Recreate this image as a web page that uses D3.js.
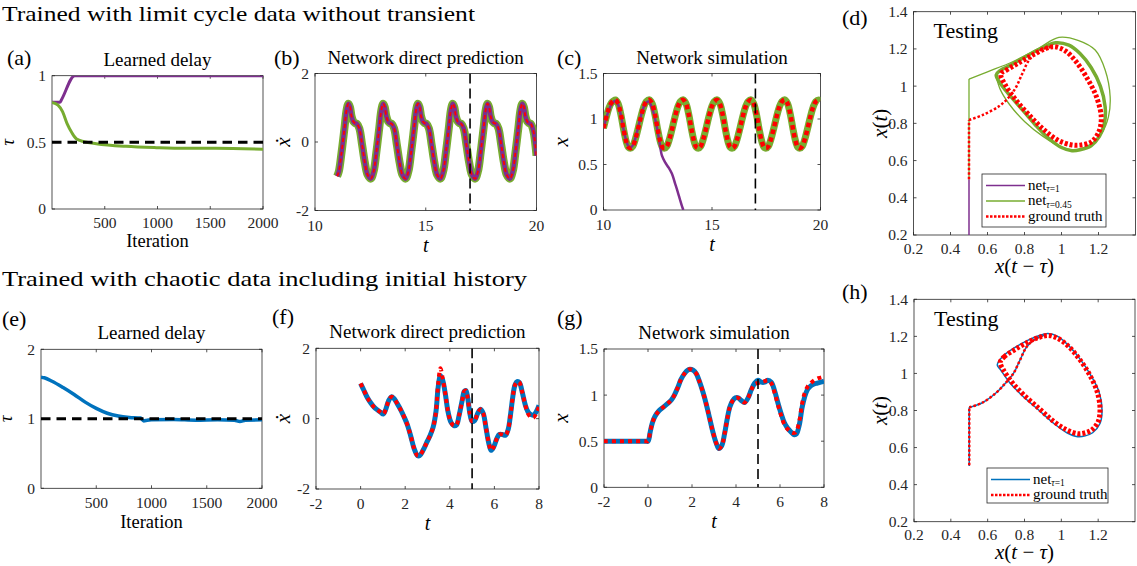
<!DOCTYPE html>
<html>
<head>
<meta charset="utf-8">
<script src="https://cdn.jsdelivr.net/npm/d3@7"></script>
<style>
body { margin: 0; background: #fff; }
svg { display: block; font-family: "Liberation Serif", "DejaVu Serif", serif; }
</style>
</head>
<body>
<svg width="1137" height="566"></svg>
<script>
// ---- (a) learned delay, limit cycle data
var aPurpleIter = [0, 75, 90, 215, 500, 1000, 1500, 2000];
var aPurpleTau = [0.8, 0.8, 0.82, 1.0, 1.0, 1.0, 1.0, 1.0];
var aGreenIter = [0, 57, 100, 143, 190, 233, 305, 420, 700, 990, 1260, 1550, 2000];
var aGreenTau = [0.8, 0.78, 0.73, 0.64, 0.57, 0.525, 0.505, 0.49, 0.47, 0.46, 0.455, 0.455, 0.448];
var aTrueDelay = 0.5;

// ---- (b) direct prediction of xdot (both nets and truth overlap)
var bT = [11.0, 11.08, 11.2, 11.33, 11.43, 11.51, 11.58, 11.65, 11.73, 11.81, 11.89, 12.0, 12.13, 12.25, 12.37, 12.52,
  12.65, 12.77, 12.9, 13.0, 13.08, 13.15, 13.22, 13.3, 13.38, 13.46, 13.57, 13.7, 13.82, 13.94, 14.09,
  14.22, 14.34, 14.47, 14.57, 14.65, 14.72, 14.79, 14.87, 14.95, 15.03, 15.14, 15.27, 15.39, 15.51, 15.66,
  15.79, 15.91, 16.04, 16.14, 16.22, 16.29, 16.36, 16.44, 16.52, 16.6, 16.71, 16.84, 16.96, 17.08, 17.23,
  17.36, 17.48, 17.61, 17.71, 17.79, 17.86, 17.93, 18.01, 18.09, 18.17, 18.28, 18.41, 18.53, 18.65, 18.8,
  18.93, 19.05, 19.18, 19.28, 19.36, 19.43, 19.5, 19.58, 19.66, 19.74, 19.85, 20.0];
var bXdot = [-1.0, -0.85, -0.3, 0.4, 0.95, 1.12, 1.02, 0.75, 0.6, 0.55, 0.53, 0.4, -0.1, -0.6, -0.95, -1.07,
  -0.85, -0.3, 0.4, 0.95, 1.12, 1.02, 0.75, 0.6, 0.55, 0.53, 0.4, -0.1, -0.6, -0.95, -1.07,
  -0.85, -0.3, 0.4, 0.95, 1.12, 1.02, 0.75, 0.6, 0.55, 0.53, 0.4, -0.1, -0.6, -0.95, -1.07,
  -0.85, -0.3, 0.4, 0.95, 1.12, 1.02, 0.75, 0.6, 0.55, 0.53, 0.4, -0.1, -0.6, -0.95, -1.07,
  -0.85, -0.3, 0.4, 0.95, 1.12, 1.02, 0.75, 0.6, 0.55, 0.53, 0.4, -0.1, -0.6, -0.95, -1.07,
  -0.85, -0.3, 0.4, 0.95, 1.12, 1.02, 0.75, 0.6, 0.55, 0.53, 0.35, -0.4];
var bSplit = 17;

// ---- (c) network simulation, limit cycle
var cT = [10.0, 10.13, 10.25, 10.37, 10.47,
  10.55, 10.67, 10.8, 10.93, 11.05, 11.15, 11.25, 11.35, 11.47, 11.6, 11.73, 11.85, 11.97,
  12.12, 12.24, 12.37, 12.5, 12.62, 12.72, 12.82, 12.92, 13.04, 13.17, 13.3, 13.42, 13.54,
  13.68, 13.8, 13.93, 14.06, 14.18, 14.28, 14.38, 14.48, 14.6, 14.73, 14.86, 14.98, 15.1,
  15.24, 15.36, 15.49, 15.62, 15.74, 15.84, 15.94, 16.04, 16.16, 16.29, 16.42, 16.54, 16.66,
  16.8, 16.92, 17.05, 17.18, 17.3, 17.4, 17.5, 17.6, 17.72, 17.85, 17.98, 18.1, 18.22,
  18.36, 18.48, 18.61, 18.74, 18.86, 18.96, 19.06, 19.16, 19.28, 19.41, 19.54, 19.66, 19.78,
  19.92, 20.0];
var cX = [0.9, 1.02, 1.12, 1.18, 1.2,
  1.21, 1.17, 1.05, 0.88, 0.75, 0.69, 0.68, 0.7, 0.78, 0.9, 1.03, 1.13, 1.19,
  1.21, 1.17, 1.05, 0.88, 0.75, 0.69, 0.68, 0.7, 0.78, 0.9, 1.03, 1.13, 1.19,
  1.21, 1.17, 1.05, 0.88, 0.75, 0.69, 0.68, 0.7, 0.78, 0.9, 1.03, 1.13, 1.19,
  1.21, 1.17, 1.05, 0.88, 0.75, 0.69, 0.68, 0.7, 0.78, 0.9, 1.03, 1.13, 1.19,
  1.21, 1.17, 1.05, 0.88, 0.75, 0.69, 0.68, 0.7, 0.78, 0.9, 1.03, 1.13, 1.19,
  1.21, 1.17, 1.05, 0.88, 0.75, 0.69, 0.68, 0.7, 0.78, 0.9, 1.03, 1.13, 1.19,
  1.21, 1.2];
var cPurpleT = [10.0, 10.13, 10.25, 10.37, 10.47, 10.55, 10.67, 10.8, 10.93, 11.05, 11.15, 11.25, 11.35, 11.47,
  11.6, 11.73, 11.85, 11.97, 12.1, 12.22, 12.35, 12.46, 12.58, 12.69, 12.85, 12.99, 13.15, 13.3, 13.42, 13.53, 13.62, 13.68];
var cPurpleX = [0.9, 1.01, 1.1, 1.16, 1.19, 1.2, 1.16, 1.04, 0.88, 0.76, 0.7, 0.69, 0.71, 0.79,
  0.91, 1.04, 1.13, 1.18, 1.19, 1.13, 1.03, 0.91, 0.75, 0.6, 0.52, 0.47, 0.4, 0.29, 0.2, 0.11, 0.04, 0.0];
var cSplit = 17;

// ---- (d) phase portrait x(t-tau) vs x(t), limit cycle
var dPurpleX = [0.5, 0.5];
var dPurpleY = [0.5, 0.0];
var dGreenPathX = [0.5, 0.5, 0.6, 0.736, 0.879, 0.986, 1.093, 1.182, 1.236, 1.263, 1.254, 1.218, 1.165, 1.075, 1.0, 0.9, 0.8, 0.72, 0.67, 0.647];
var dGreenPathY = [0.5, 1.038, 1.077, 1.131, 1.205, 1.262, 1.245, 1.194, 1.087, 0.943, 0.836, 0.747, 0.693, 0.657, 0.672, 0.73, 0.81, 0.9, 0.98, 1.05];
var dGreenLoopX = [0.647, 0.67, 0.72, 0.8, 0.88, 0.968, 1.04, 1.1, 1.16, 1.21, 1.236, 1.232, 1.205, 1.16, 1.1, 1.057, 1.0, 0.93, 0.86, 0.789, 0.73, 0.68];
var dGreenLoopY = [1.06, 1.085, 1.11, 1.155, 1.198, 1.233, 1.22, 1.175, 1.1, 1.0, 0.889, 0.8, 0.73, 0.68, 0.658, 0.653, 0.67, 0.72, 0.79, 0.872, 0.94, 1.0];
var dTruthPathX = [0.5, 0.5, 0.575, 0.664, 0.718, 0.754, 0.789, 0.825, 0.879, 0.95];
var dTruthPathY = [0.5, 0.818, 0.845, 0.893, 0.943, 0.994, 1.069, 1.14, 1.19, 1.212];
var dTruthLoopX = [0.672, 0.7, 0.76, 0.84, 0.91, 0.96, 1.02, 1.08, 1.14, 1.19, 1.215, 1.2, 1.16, 1.1, 1.05, 0.98, 0.9, 0.82, 0.75, 0.7];
var dTruthLoopY = [1.065, 1.085, 1.12, 1.165, 1.2, 1.212, 1.19, 1.13, 1.04, 0.94, 0.83, 0.75, 0.7, 0.683, 0.685, 0.71, 0.77, 0.85, 0.93, 1.0];

// ---- (e) learned delay, chaotic data
var eIter = [0, 30, 100, 200, 300, 400, 500, 600, 700, 800, 900, 930, 960, 1000, 1200, 1400, 1600, 1750, 1800, 1850, 2000];
var eTau = [1.6, 1.59, 1.54, 1.45, 1.35, 1.24, 1.15, 1.08, 1.04, 1.02, 1.01, 0.97, 0.98, 0.985, 0.99, 0.98, 0.985, 0.98, 0.96, 0.98, 0.985];
var eTrueDelay = 1;

// ---- (f) direct prediction, chaotic
var fT = [0.0, 0.15, 0.3, 0.45, 0.6, 0.75, 0.9, 1.02, 1.12, 1.25, 1.38, 1.5, 1.65, 1.8, 1.95, 2.1, 2.25, 2.4, 2.55, 2.65,
  2.8, 2.95, 3.1, 3.25, 3.38, 3.48, 3.58, 3.68, 3.8, 3.92, 4.05, 4.18, 4.3, 4.42, 4.55, 4.65, 4.72, 4.8, 4.9, 5.0,
  5.12, 5.25, 5.38, 5.5, 5.62, 5.75, 5.85, 5.97, 6.1, 6.22, 6.35, 6.5, 6.62, 6.72, 6.82, 6.92, 7.02, 7.12, 7.25,
  7.38, 7.5, 7.62, 7.75, 7.88, 8.0];
var fNet = [1.0, 0.8, 0.6, 0.45, 0.33, 0.25, 0.18, 0.13, 0.25, 0.5, 0.62, 0.57, 0.42, 0.25, 0.05, -0.18, -0.5, -0.85, -1.05, -1.05,
  -0.9, -0.7, -0.5, -0.25, 0.2, 0.9, 1.22, 1.1, 0.7, 0.2, -0.1, -0.2, -0.18, 0.1, 0.5, 0.78, 0.8, 0.6, 0.15, -0.08,
  -0.05, 0.15, 0.27, 0.15, -0.25, -0.7, -0.9, -0.8, -0.58, -0.45, -0.45, -0.47, -0.3, 0.1, 0.6, 0.95, 1.05, 1.03, 0.75,
  0.4, 0.2, 0.12, 0.1, 0.2, 0.38];
var fTruth = [1.0, 0.8, 0.6, 0.45, 0.33, 0.25, 0.18, 0.13, 0.25, 0.5, 0.62, 0.57, 0.42, 0.25, 0.05, -0.18, -0.5, -0.85, -1.05, -1.05,
  -0.9, -0.7, -0.5, -0.25, 0.2, 1.0, 1.43, 1.15, 0.7, 0.2, -0.1, -0.2, -0.18, 0.1, 0.5, 0.78, 0.8, 0.6, 0.15, -0.08,
  -0.05, 0.15, 0.27, 0.15, -0.25, -0.7, -0.9, -0.8, -0.58, -0.45, -0.45, -0.47, -0.3, 0.1, 0.6, 0.95, 1.05, 1.03, 0.75,
  0.4, 0.15, 0.05, 0.03, 0.15, 0.35];
var fSplit = 5;

// ---- (g) network simulation, chaotic
var gT = [-2, -0.1, 0, 0.1, 0.2, 0.32, 0.5, 0.7, 0.9, 1.07, 1.2, 1.35, 1.5, 1.65, 1.8, 1.9, 2.05, 2.2, 2.35, 2.5, 2.65, 2.8, 2.95,
  3.1, 3.22, 3.35, 3.48, 3.6, 3.72, 3.85, 3.97, 4.1, 4.25, 4.39, 4.55, 4.7, 4.85, 5.0, 5.15, 5.3, 5.45, 5.6, 5.75, 5.9,
  6.05, 6.2, 6.35, 6.5, 6.65, 6.75, 6.88, 7.0, 7.12, 7.25, 7.4, 7.55, 7.7, 7.85, 8.0];
var gNet = [0.5, 0.5, 0.5, 0.6, 0.7, 0.77, 0.83, 0.87, 0.91, 0.95, 1.0, 1.08, 1.17, 1.23, 1.27, 1.28, 1.27, 1.23, 1.14, 1.03, 0.9, 0.75, 0.6,
  0.48, 0.42, 0.45, 0.58, 0.74, 0.87, 0.94, 0.97, 0.97, 0.94, 0.92, 0.97, 1.06, 1.13, 1.16, 1.14, 1.14, 1.16, 1.14, 1.05, 0.92,
  0.8, 0.7, 0.64, 0.6, 0.57, 0.58, 0.68, 0.86, 0.98, 1.06, 1.1, 1.12, 1.13, 1.14, 1.15];
var gTruth = [0.5, 0.5, 0.5, 0.6, 0.7, 0.77, 0.83, 0.87, 0.91, 0.95, 1.0, 1.08, 1.17, 1.23, 1.27, 1.28, 1.27, 1.23, 1.14, 1.03, 0.9, 0.75, 0.6,
  0.48, 0.42, 0.45, 0.58, 0.74, 0.87, 0.94, 0.97, 0.97, 0.94, 0.92, 0.97, 1.06, 1.12, 1.13, 1.14, 1.15, 1.16, 1.13, 1.03, 0.9,
  0.78, 0.68, 0.63, 0.6, 0.59, 0.61, 0.72, 0.9, 1.02, 1.09, 1.13, 1.16, 1.18, 1.19, 1.2];
var gSplit = 5;

// ---- (h) phase portrait, chaotic
var hNetPathX = [0.5, 0.5, 0.571, 0.643, 0.696, 0.74, 0.776, 0.812, 0.857, 0.91];
var hNetPathY = [0.5, 0.817, 0.842, 0.893, 0.947, 1.0, 1.073, 1.144, 1.184, 1.207];
var hNetLoopX = [0.652, 0.68, 0.74, 0.82, 0.88, 0.927, 0.98, 1.04, 1.1, 1.16, 1.205, 1.221, 1.21, 1.17, 1.13, 1.088, 1.03, 0.96, 0.88, 0.784, 0.72, 0.67];
var hNetLoopY = [1.045, 1.09, 1.135, 1.18, 1.205, 1.216, 1.2, 1.15, 1.08, 0.99, 0.9, 0.803, 0.73, 0.68, 0.663, 0.659, 0.68, 0.73, 0.8, 0.884, 0.95, 1.02];
var hTruthPathX = [0.5, 0.5, 0.571, 0.643, 0.696, 0.74, 0.776, 0.812, 0.857, 0.91];
var hTruthPathY = [0.505, 0.817, 0.842, 0.893, 0.947, 1.0, 1.073, 1.144, 1.184, 1.207];
var hTruthLoopX = [0.668, 0.69, 0.75, 0.82, 0.88, 0.93, 0.98, 1.04, 1.1, 1.155, 1.195, 1.21, 1.2, 1.165, 1.13, 1.09, 1.03, 0.96, 0.88, 0.79, 0.73, 0.685];
var hTruthLoopY = [1.06, 1.09, 1.13, 1.17, 1.195, 1.205, 1.19, 1.145, 1.075, 0.99, 0.9, 0.81, 0.74, 0.695, 0.68, 0.675, 0.695, 0.74, 0.81, 0.89, 0.955, 1.02];

// ---- ticks
var iterTicks = [500, 1000, 1500, 2000];
var aTauTicks = [0, 0.5, 1];
var eTauTicks = [0, 1, 2];
var xdotTicks = [-2, 0, 2];
var xTicks15 = [0, 0.5, 1, 1.5];
var tTicksTop = [10, 15, 20];
var tTicksBottom = [-2, 0, 2, 4, 6, 8];
var phaseXTicks = [0.2, 0.4, 0.6, 0.8, 1, 1.2];
var phaseYTicks = [0.2, 0.4, 0.6, 0.8, 1, 1.2, 1.4];

var PURPLE = "#7E2F8E", GREEN = "#77AC30", BLUE = "#0072BD", RED = "#FF0000", INK = "#262626";

var svg = d3.select("svg");
var clipN = 0;
var CR = d3.curveCatmullRom.alpha(0.5);
var CRC = d3.curveCatmullRomClosed.alpha(0.5);

function panel(o) {
  var x = d3.scaleLinear().domain(o.xd).range([o.left, o.left + o.w]);
  var y = d3.scaleLinear().domain(o.yd).range([o.top + o.h, o.top]);
  var id = "clip" + (clipN++);
  var tdy = o.tickDy || 20;
  svg.append("clipPath").attr("id", id).append("rect")
    .attr("x", o.left).attr("y", o.top).attr("width", o.w).attr("height", o.h);
  var g = svg.append("g");
  g.append("rect")
    .attr("x", o.left).attr("y", o.top).attr("width", o.w).attr("height", o.h)
    .attr("fill", "#fff").attr("stroke", INK).attr("stroke-width", 0.8);

  // inward ticks on all four sides, like matlab
  o.xt.forEach(function(v) {
    g.append("line").attr("x1", x(v)).attr("x2", x(v)).attr("y1", o.top + o.h).attr("y2", o.top + o.h - 3).attr("stroke", INK).attr("stroke-width", 0.8);
    g.append("line").attr("x1", x(v)).attr("x2", x(v)).attr("y1", o.top).attr("y2", o.top + 3).attr("stroke", INK).attr("stroke-width", 0.8);
    g.append("text").attr("x", x(v)).attr("y", o.top + o.h + tdy)
      .attr("text-anchor", "middle").attr("font-size", 15.5).attr("fill", INK)
      .text(String(v));
  });
  o.yt.forEach(function(v) {
    g.append("line").attr("x1", o.left).attr("x2", o.left + 3).attr("y1", y(v)).attr("y2", y(v)).attr("stroke", INK).attr("stroke-width", 0.8);
    g.append("line").attr("x1", o.left + o.w).attr("x2", o.left + o.w - 3).attr("y1", y(v)).attr("y2", y(v)).attr("stroke", INK).attr("stroke-width", 0.8);
    g.append("text").attr("x", o.left - 6).attr("y", y(v)).attr("dy", "0.35em")
      .attr("text-anchor", "end").attr("font-size", 15.5).attr("fill", INK)
      .text(String(v));
  });

  var plot = svg.append("g").attr("clip-path", "url(#" + id + ")");

  if (o.title) {
    svg.append("text").attr("x", o.left + o.w / 2).attr("y", o.top - 10)
      .attr("text-anchor", "middle").attr("font-size", 19).text(o.title);
  }
  svg.append("text").attr("x", o.labX).attr("y", o.labY).attr("font-size", 22).text(o.label);

  return {x: x, y: y, g: g, plot: plot, o: o};
}

function trace(p, xs, ys, color, width, dash, curve) {
  p.plot.append("path")
    .datum(d3.zip(xs, ys))
    .attr("fill", "none")
    .attr("stroke", color)
    .attr("stroke-width", width)
    .attr("stroke-dasharray", dash || null)
    .attr("stroke-linejoin", "round")
    .attr("d", d3.line()
      .x(function(d) { return p.x(d[0]); })
      .y(function(d) { return p.y(d[1]); })
      .curve(curve || CR));
}

// history segment is a straight vertical, the rest is smooth
function transient(p, xs, ys, color, width, dash) {
  trace(p, xs.slice(0, 2), ys.slice(0, 2), color, width, dash, d3.curveLinear);
  trace(p, xs.slice(1), ys.slice(1), color, width, dash, CR);
}

function vline(p, v) {
  p.plot.append("line").attr("x1", p.x(v)).attr("x2", p.x(v))
    .attr("y1", p.o.top).attr("y2", p.o.top + p.o.h)
    .attr("stroke", "#000").attr("stroke-width", 1.6).attr("stroke-dasharray", "10,5");
}

function hline(p, v) {
  p.plot.append("line").attr("x1", p.o.left).attr("x2", p.o.left + p.o.w)
    .attr("y1", p.y(v)).attr("y2", p.y(v))
    .attr("stroke", "#000").attr("stroke-width", 3).attr("stroke-dasharray", "9.5,6");
}

// axis labels -- parts: [text, italic]
function xlabel(p, parts, dy, size) {
  var t = svg.append("text").attr("x", p.o.left + p.o.w / 2).attr("y", p.o.top + p.o.h + dy)
    .attr("text-anchor", "middle").attr("font-size", size);
  parts.forEach(function(s) { t.append("tspan").attr("font-style", s[1] ? "italic" : "normal").text(s[0]); });
}
function ylabel(p, parts, dx, size) {
  var t = svg.append("text")
    .attr("transform", "translate(" + (p.o.left + dx) + "," + (p.o.top + p.o.h / 2) + ") rotate(-90)")
    .attr("text-anchor", "middle").attr("font-size", size);
  parts.forEach(function(s) { t.append("tspan").attr("font-style", s[1] ? "italic" : "normal").text(s[0]); });
}

// ---------- headings
svg.append("text").attr("x", 2).attr("y", 21).attr("font-size", 22)
  .attr("textLength", 473).attr("lengthAdjust", "spacingAndGlyphs")
  .text("Trained with limit cycle data without transient");
svg.append("text").attr("x", 2).attr("y", 286).attr("font-size", 22)
  .attr("textLength", 525).attr("lengthAdjust", "spacingAndGlyphs")
  .text("Trained with chaotic data including initial history");

// ---------- (a)
var pa = panel({left: 52, top: 75.7, w: 211, h: 133.3, xd: [0, 2000], yd: [0, 1], xt: iterTicks, yt: aTauTicks,
  title: "Learned delay", label: "(a)", labX: 7, labY: 65, tickDy: 19});
trace(pa, aPurpleIter, aPurpleTau, PURPLE, 3, null, d3.curveMonotoneX);
trace(pa, aGreenIter, aGreenTau, GREEN, 3, null, d3.curveMonotoneX);
hline(pa, aTrueDelay);
xlabel(pa, [["Iteration", false]], 38, 18.5);
ylabel(pa, [["τ", true]], -38, 19);

// ---------- (b)
var pb = panel({left: 315, top: 73.5, w: 221.5, h: 137, xd: [10, 20], yd: [-2, 2], xt: tTicksTop, yt: xdotTicks,
  title: "Network direct prediction", label: "(b)", labX: 274, labY: 65});
trace(pb, bT, bXdot, GREEN, 8);
trace(pb, bT, bXdot, PURPLE, 4.5);
trace(pb, bT, bXdot, RED, 1.8, "4,3");
vline(pb, bSplit);
xlabel(pb, [["t", true]], 41, 20);
ylabel(pb, [["ẋ", true]], -25, 21);

// ---------- (c)
var pc = panel({left: 603.5, top: 73.5, w: 217, h: 136.5, xd: [10, 20], yd: [0, 1.5], xt: tTicksTop, yt: xTicks15,
  title: "Network simulation", label: "(c)", labX: 557, labY: 65});
trace(pc, cT, cX, GREEN, 7);
trace(pc, cPurpleT, cPurpleX, PURPLE, 2.5);
trace(pc, cT, cX, RED, 4.5, "4.5,3.5");
vline(pc, cSplit);
xlabel(pc, [["t", true]], 41, 20);
ylabel(pc, [["x", true]], -36, 21);

// ---------- (d)
var pd = panel({left: 913.5, top: 11.7, w: 222, h: 223.3, xd: [0.2, 1.4], yd: [0.2, 1.4], xt: phaseXTicks, yt: phaseYTicks,
  label: "(d)", labX: 842, labY: 25, tickDy: 18.5});
trace(pd, dPurpleX, dPurpleY, PURPLE, 1.5, null, d3.curveLinear);
transient(pd, dGreenPathX, dGreenPathY, GREEN, 1.3);
trace(pd, dGreenLoopX, dGreenLoopY, GREEN, 3.5, null, CRC);
transient(pd, dTruthPathX, dTruthPathY, RED, 2.5, "2.5,2");
trace(pd, dTruthLoopX, dTruthLoopY, RED, 5, "3,2", CRC);
xlabel(pd, [["x", true], ["(", false], ["t", true], [" − ", false], ["τ", true], [")", false]], 38, 21);
ylabel(pd, [["x", true], ["(", false], ["t", true], [")", false]], -27, 21);
svg.append("text").attr("x", pd.o.left + 20).attr("y", pd.o.top + 26).attr("font-size", 22).text("Testing");

function legend(x0, y0, w, h, items) {
  var g = svg.append("g");
  g.append("rect").attr("x", x0).attr("y", y0).attr("width", w).attr("height", h)
    .attr("fill", "#fff").attr("stroke", INK).attr("stroke-width", 0.8);
  items.forEach(function(it, i) {
    var yy = y0 + 11.5 + i * 15.5;
    g.append("line").attr("x1", x0 + 4).attr("x2", x0 + 43).attr("y1", yy).attr("y2", yy)
      .attr("stroke", it.color).attr("stroke-width", it.width).attr("stroke-dasharray", it.dash || null);
    var t = g.append("text").attr("x", x0 + 46).attr("y", yy + 4).attr("font-size", 15);
    t.append("tspan").text(it.name);
    if (it.sub) {
      t.append("tspan").attr("font-size", 9.5).attr("dy", 2.5).attr("font-style", "italic").text("τ");
      t.append("tspan").attr("font-size", 9.5).text(it.sub);
    }
  });
}
legend(982, 174, 124, 53, [
  {name: "net", sub: "=1", color: PURPLE, width: 1.5},
  {name: "net", sub: "=0.45", color: GREEN, width: 1.5},
  {name: "ground truth", color: RED, width: 2.5, dash: "2.5,1.5"}
]);

// ---------- (e)
var pe = panel({left: 41, top: 349.3, w: 221, h: 139, xd: [0, 2000], yd: [0, 2], xt: iterTicks, yt: eTauTicks,
  title: "Learned delay", label: "(e)", labX: 2, labY: 326});
trace(pe, eIter, eTau, BLUE, 3.5, null, d3.curveMonotoneX);
hline(pe, eTrueDelay);
xlabel(pe, [["Iteration", false]], 40, 18.5);
ylabel(pe, [["τ", true]], -29, 19);

// ---------- (f)
var pf = panel({left: 316, top: 348.3, w: 223, h: 140.7, xd: [-2, 8], yd: [-2, 2], xt: tTicksBottom, yt: xdotTicks,
  title: "Network direct prediction", label: "(f)", labX: 272, labY: 324});
trace(pf, fT, fNet, BLUE, 5);
trace(pf, fT, fTruth, RED, 4, "4,4");
vline(pf, fSplit);
xlabel(pf, [["t", true]], 41, 20);
ylabel(pf, [["ẋ", true]], -26, 21);

// ---------- (g)
var pg = panel({left: 604, top: 349, w: 220, h: 138.3, xd: [-2, 8], yd: [0, 1.5], xt: tTicksBottom, yt: xTicks15,
  title: "Network simulation", label: "(g)", labX: 557, labY: 325});
trace(pg, gT, gNet, BLUE, 5);
trace(pg, gT, gTruth, RED, 4, "4,4");
vline(pg, gSplit);
xlabel(pg, [["t", true]], 41, 20);
ylabel(pg, [["x", true]], -36, 21);

// ---------- (h)
var ph = panel({left: 914, top: 299.3, w: 221, h: 222.4, xd: [0.2, 1.4], yd: [0.2, 1.4], xt: phaseXTicks, yt: phaseYTicks,
  label: "(h)", labX: 842, labY: 299, tickDy: 18.5});
transient(ph, hNetPathX, hNetPathY, BLUE, 1.5);
trace(ph, hNetLoopX, hNetLoopY, BLUE, 1.5, null, CRC);
transient(ph, hTruthPathX, hTruthPathY, RED, 2.5, "2.5,2");
trace(ph, hTruthLoopX, hTruthLoopY, RED, 5, "3,2", CRC);
xlabel(ph, [["x", true], ["(", false], ["t", true], [" − ", false], ["τ", true], [")", false]], 37, 21);
ylabel(ph, [["x", true], ["(", false], ["t", true], [")", false]], -27, 21);
svg.append("text").attr("x", ph.o.left + 20).attr("y", ph.o.top + 27).attr("font-size", 22).text("Testing");
legend(987, 468, 121, 35, [
  {name: "net", sub: "=1", color: BLUE, width: 1.5},
  {name: "ground truth", color: RED, width: 2.5, dash: "2.5,1.5"}
]);
</script>
</body>
</html>
